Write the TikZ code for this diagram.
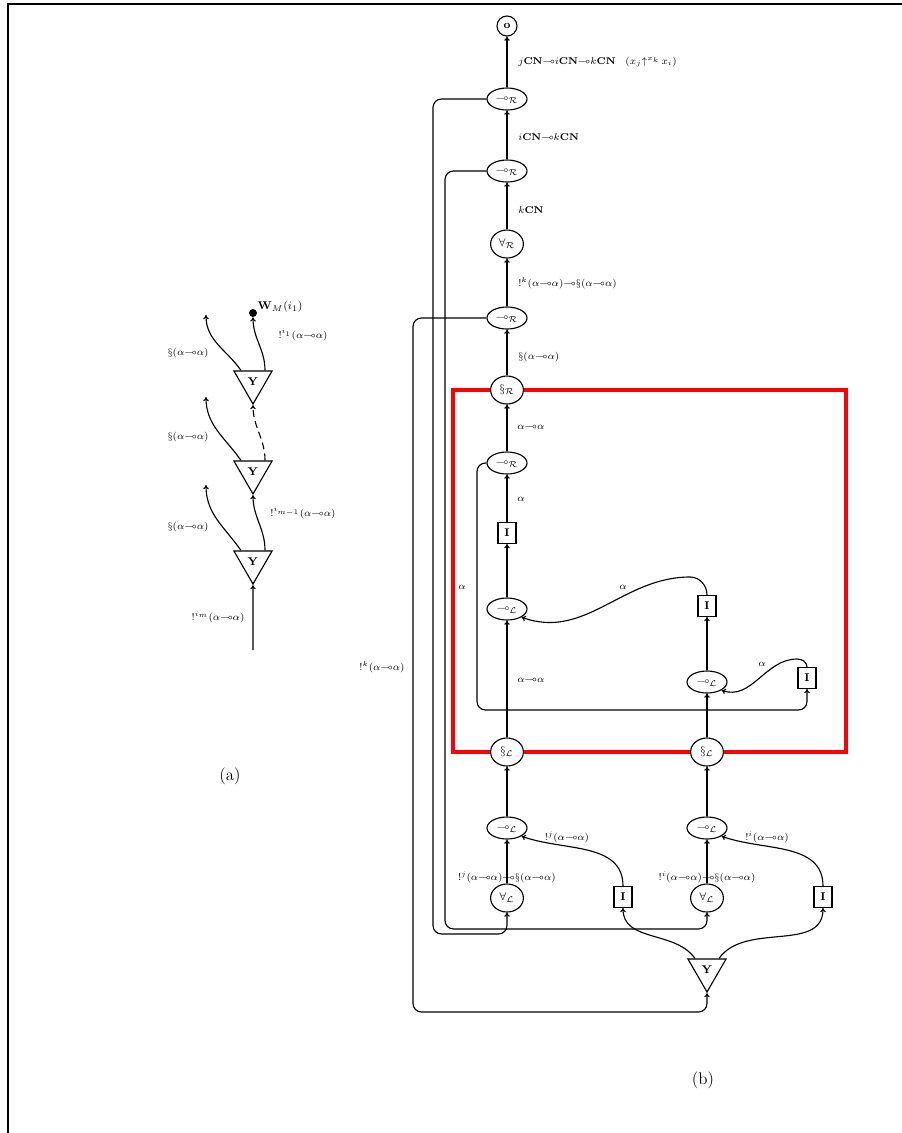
\documentclass[tikz,border=0pt]{standalone}
\usepackage{amsmath, amsfonts, amssymb}
\usepackage{tikz}
\usetikzlibrary{
  shapes.geometric,
  arrows.meta,
  positioning
}
\definecolor{BoxRed}{RGB}{255, 0, 0}
\newcommand{\lolli}{{\multimap}}
\tikzset{
    every node/.append style={font=\scriptsize},
    rulenode/.style={ellipse, draw, fill=white, line width=0.8pt, minimum width=1cm, minimum height=0.55cm, inner sep=0pt, font=\footnotesize},
    roundrule/.style={rulenode, minimum width=0.82cm, minimum height=0.7cm},
    axbox/.style={rectangle, draw, fill=white, line width=0.8pt, minimum width=0.45cm, minimum height=0.52cm, inner sep=0pt, font=\footnotesize},
    contr/.style={regular polygon, regular polygon sides=3, shape border rotate=180, draw, fill=white, line width=0.8pt, minimum size=1.1cm, inner sep=0pt, font=\footnotesize},
    wire/.style={line width=0.8pt, -{To[length=3pt, width=4pt]}},
    wirelabel/.style={anchor=west, inner sep=0pt},
}

\begin{document}
\begin{tikzpicture}[x=0.025cm, y=-0.025cm]
\useasboundingbox (0,0) rectangle (902,1133);
\draw[line width=1.5pt] (8,1133) -- (8,4) -- (902,4);

\node[contr] (ya) at (253,382) {$\mathbf{Y}$};
\node[contr] (yb) at (253,472) {$\mathbf{Y}$};
\node[contr] (yc) at (253,562) {$\mathbf{Y}$};
\node[circle, fill, inner sep=0pt, minimum size=0.2cm] (wm) at (253,313) {};
\node[above right=-3pt and 0pt of wm, inner sep=1pt, font=\footnotesize] {$\mathbf{W}_M(i_1)$};
\coordinate (sa) at (206,315);
\coordinate (sb) at (206,397);
\coordinate (sc) at (206,485);
\coordinate (im) at (253,650);
\draw[wire] ([xshift=-0.3cm]ya.north) to[out=125, in=-90] (sa);
\draw[wire] ([xshift=-0.3cm]yb.north) to[out=125, in=-90] (sb);
\draw[wire] ([xshift=-0.3cm]yc.north) to[out=125, in=-90] (sc);
\draw[wire] ([xshift=0.3cm]ya.north) to[out=90, in=-90] (wm.south);
\draw[wire, dash pattern=on 5pt off 3pt] ([xshift=0.3cm]yb.north) to[out=90, in=-90] (ya.south);
\draw[wire] ([xshift=0.3cm]yc.north) to[out=90, in=-90] (yb.south);
\draw[wire] (im) -- (yc.south);
\node at (188,353) {$\S(\alpha\lolli\alpha)$};
\node at (188,437) {$\S(\alpha\lolli\alpha)$};
\node at (188,527) {$\S(\alpha\lolli\alpha)$};
\node at (303,335) {$!^{i_1}(\alpha\lolli\alpha)$};
\node at (303,513) {$!^{i_{m-1}}(\alpha\lolli\alpha)$};
\node at (218,617) {$!^{i_m}(\alpha\lolli\alpha)$};
\node[font=\large] at (230,776) {(a)};

\draw[line width=2.6pt, BoxRed] (453,390) rectangle (846,752);
\node[circle, draw, line width=0.8pt, minimum size=0.5cm, inner sep=0pt, font=\footnotesize] (out) at (507,26) {$\mathbf{o}$};
\node[rulenode] (ra) at (507,99) {$\multimap_{\mathcal{R}}$};
\node[rulenode] (rb) at (507,171) {$\multimap_{\mathcal{R}}$};
\node[roundrule] (fr) at (507,244) {$\forall_{\mathcal{R}}$};
\node[rulenode] (rc) at (507,318) {$\multimap_{\mathcal{R}}$};
\node[roundrule] (sr) at (507,390) {$\S_{\mathcal{R}}$};
\node[rulenode] (rd) at (507,463) {$\multimap_{\mathcal{R}}$};
\node[axbox] (ia) at (507,533) {$\mathbf{I}$};
\node[rulenode] (la) at (507,609) {$\multimap_{\mathcal{L}}$};
\node[axbox] (ib) at (707,606) {$\mathbf{I}$};
\node[rulenode] (lb) at (707,682) {$\multimap_{\mathcal{L}}$};
\node[axbox] (ic) at (807,678) {$\mathbf{I}$};
\node[roundrule] (sla) at (507,752) {$\S_{\mathcal{L}}$};
\node[roundrule] (slb) at (707,752) {$\S_{\mathcal{L}}$};
\node[rulenode] (lc) at (507,828) {$\multimap_{\mathcal{L}}$};
\node[rulenode] (ld) at (707,828) {$\multimap_{\mathcal{L}}$};
\node[roundrule] (fla) at (507,898) {$\forall_{\mathcal{L}}$};
\node[roundrule] (flb) at (707,898) {$\forall_{\mathcal{L}}$};
\node[axbox] (id) at (623,897) {$\mathbf{I}$};
\node[axbox] (ie) at (823,897) {$\mathbf{I}$};
\node[contr] (yd) at (707,970) {$\mathbf{Y}$};

\draw[wire] (ra) -- (out);
\draw[wire] (rb) -- (ra);
\draw[wire] (fr) -- (rb);
\draw[wire] (rc) -- (fr);
\draw[wire] (sr) -- (rc);
\draw[wire] (rd) -- (sr);
\draw[wire] (ia) -- (rd);
\draw[wire] (la) -- (ia);
\draw[wire] (sla) -- (la);
\draw[wire] (lb) -- (ib);
\draw[wire] (slb) -- (lb);
\draw[wire] (lc) -- (sla);
\draw[wire] (ld) -- (slb);
\draw[wire] (fla) -- (lc);
\draw[wire] (flb) -- (ld);
\draw[wire, rounded corners=6pt] (ra.west) -| (433,934) -| (fla.south);
\draw[wire, rounded corners=6pt] (rb.west) -| (445,929) -| (flb.south);
\draw[wire, rounded corners=6pt] (rc.west) -| (413,1012) -| (yd.south);
\draw[wire, rounded corners=6pt] (rd.west) -| (477,710) -| (ic.south);
\draw[wire] (ib.north) to[out=90, in=0] (690,577) to[out=180, in=-20] (la.south east);
\draw[wire] (ic.north) to[out=90, in=0] (797,659) to[out=180, in=-20] (lb.south east);
\draw[wire] (id.north) to[out=90, in=-20] (lc.south east);
\draw[wire] (ie.north) to[out=90, in=-20] (ld.south east);
\draw[wire] ([xshift=-0.3cm]yd.north) to[out=125, in=-90] (id.south);
\draw[wire] ([xshift=0.3cm]yd.north) to[out=55, in=-90] (ie.south);

\node[wirelabel] at (518,62) {$j\mathbf{CN}\lolli i\mathbf{CN}\lolli k\mathbf{CN}$\quad$(x_j{\uparrow^{x_k}}\,x_i)$};
\node[wirelabel] at (518,137) {$i\mathbf{CN}\lolli k\mathbf{CN}$};
\node[wirelabel] at (518,210) {$k\mathbf{CN}$};
\node[wirelabel] at (518,283) {$!^k(\alpha\lolli\alpha)\lolli\S(\alpha\lolli\alpha)$};
\node[wirelabel] at (518,357) {$\S(\alpha\lolli\alpha)$};
\node[wirelabel] at (517,427) {$\alpha\lolli\alpha$};
\node[wirelabel] at (517,499) {$\alpha$};
\node at (462,587) {$\alpha$};
\node at (623,587) {$\alpha$};
\node[wirelabel] at (517,680) {$\alpha\lolli\alpha$};
\node at (762,664) {$\alpha$};
\node at (567,837) {$!^j(\alpha\lolli\alpha)$};
\node at (767,837) {$!^i(\alpha\lolli\alpha)$};
\node at (507,877) {$!^j(\alpha\lolli\alpha)\lolli\S(\alpha\lolli\alpha)$};
\node at (707,877) {$!^i(\alpha\lolli\alpha)\lolli\S(\alpha\lolli\alpha)$};
\node at (382,667) {$!^k(\alpha\lolli\alpha)$};
\node[font=\large] at (703,1080) {(b)};
\end{tikzpicture}
\end{document}
